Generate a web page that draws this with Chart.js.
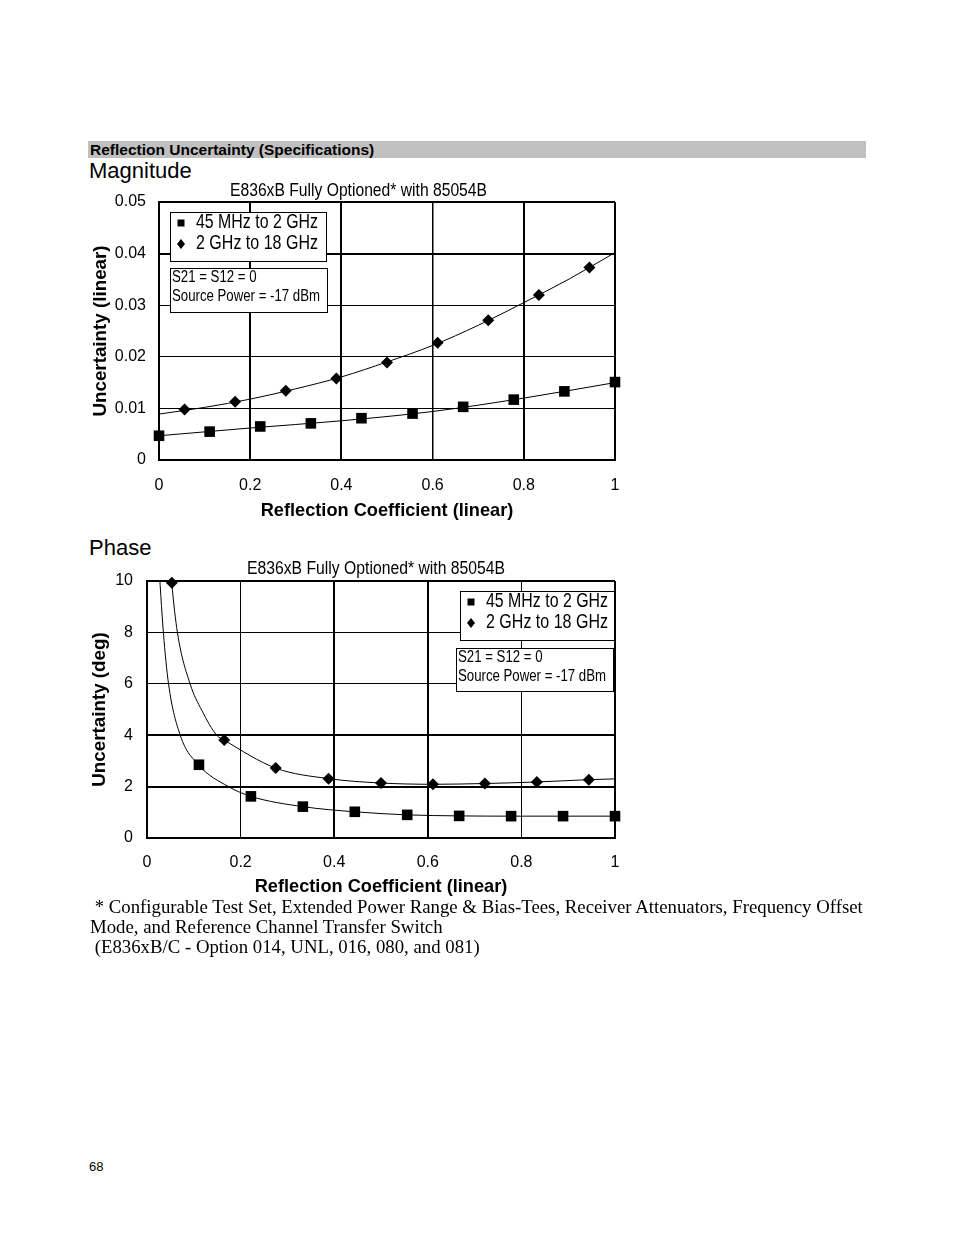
<!DOCTYPE html>
<html lang="en">
<head>
<meta charset="UTF-8">
<title>Reflection Uncertainty (Specifications)</title>
<script src="https://cdn.jsdelivr.net/npm/chart.js"></script>
<style>
  body { margin: 0; background: #fff; }
  #page { position: relative; width: 954px; height: 1235px; overflow: hidden; }
  .bar { position: absolute; left: 88px; top: 141px; width: 778px; height: 17px; background: #c0c0c0;
         font: bold 15.5px "Liberation Sans", Arial, sans-serif; line-height: 17px; padding-left: 2px; box-sizing: border-box; }
  .head { position: absolute; left: 89px; font: 22px "Liberation Sans", Arial, sans-serif; line-height: 22px; }
  .wrap { position: absolute; left: 88px; }
  .foot { position: absolute; left: 90px; top: 897px; font: 18.8px "Liberation Serif", "Times New Roman", serif; line-height: 20px; white-space: pre; }
  .pg { position: absolute; left: 89px; top: 1159px; font: 13px "Liberation Sans", Arial, sans-serif; }
</style>
</head>
<body>
<div id="page">
  <div class="bar">Reflection Uncertainty (Specifications)</div>
  <div class="head" style="top:160px">Magnitude</div>
  <div class="wrap" style="top:181px"><canvas id="magChart" width="540" height="344"></canvas></div>
  <div class="head" style="top:537px">Phase</div>
  <div class="wrap" style="top:560px"><canvas id="phaseChart" width="540" height="343"></canvas></div>
  <div class="foot"> * Configurable Test Set, Extended Power Range &amp; Bias-Tees, Receiver Attenuators, Frequency Offset
Mode, and Reference Channel Transfer Switch
 (E836xB/C - Option 014, UNL, 016, 080, and 081)</div>
  <div class="pg">68</div>
</div>

<script>
// ---- data ----
const xTickLabels = ['0', '0.2', '0.4', '0.6', '0.8', '1'];
const magTickLabels = ['0', '0.01', '0.02', '0.03', '0.04', '0.05'];
const phaseTickLabels = ['0', '2', '4', '6', '8', '10'];
const seriesNames = ['45 MHz to 2 GHz', '2 GHz to 18 GHz'];

// Magnitude: 45 MHz to 2 GHz (squares)
const magLowX = [0, 0.111, 0.222, 0.333, 0.444, 0.556, 0.667, 0.778, 0.889, 1];
const magLowY = [0.0047, 0.0055, 0.0065, 0.0071, 0.0081, 0.0090, 0.0103, 0.0117, 0.0133, 0.0151];
// Magnitude: 2 GHz to 18 GHz (diamonds)
const magHighX = [0.056, 0.167, 0.278, 0.389, 0.5, 0.611, 0.722, 0.833, 0.944];
const magHighY = [0.0098, 0.0113, 0.0134, 0.0158, 0.0189, 0.0227, 0.0271, 0.0320, 0.0373];
// fitted curves
const magLowFitX = [0, 0.2, 0.4, 0.6, 0.8, 1];
const magLowFitY = [0.0047, 0.0062, 0.0076, 0.0094, 0.0120, 0.0150];
const magHighFitX = [0, 0.1, 0.2, 0.3, 0.4, 0.5, 0.6, 0.7, 0.8, 0.9, 1];
const magHighFitY = [0.0089, 0.0102, 0.0118, 0.0138, 0.0161, 0.0190, 0.0222, 0.0261, 0.0305, 0.0351, 0.0402];

// Phase: 45 MHz to 2 GHz (squares)
const phaseLowX = [0.111, 0.222, 0.333, 0.444, 0.556, 0.667, 0.778, 0.889, 1];
const phaseLowY = [2.85, 1.62, 1.22, 1.02, 0.90, 0.86, 0.85, 0.85, 0.85];
// Phase: 2 GHz to 18 GHz (diamonds)
const phaseHighX = [0.053, 0.165, 0.275, 0.388, 0.5, 0.611, 0.722, 0.833, 0.944];
const phaseHighY = [9.93, 3.81, 2.72, 2.31, 2.14, 2.09, 2.12, 2.18, 2.27];
// fitted curves
const phaseLowFitX = [0.024, 0.035, 0.046, 0.071, 0.110, 0.174, 0.222, 0.333, 0.444, 0.556, 0.667, 0.778, 0.889, 1];
const phaseLowFitY = [11.0, 8.0, 6.0, 4.0, 2.85, 2.0, 1.62, 1.22, 1.02, 0.90, 0.86, 0.85, 0.85, 0.85];
const phaseHighFitX = [0.049, 0.053, 0.065, 0.092, 0.117, 0.149, 0.165, 0.275, 0.388, 0.5, 0.611, 0.722, 0.833, 0.944, 1];
const phaseHighFitY = [11.0, 9.93, 8.0, 6.0, 4.97, 4.0, 3.81, 2.72, 2.31, 2.14, 2.09, 2.12, 2.18, 2.27, 2.30];

const pts = (xs, ys) => xs.map((x, i) => ({ x: x, y: ys[i] }));

const sans = "'Liberation Sans', Arial, sans-serif";
Chart.defaults.color = '#000';
Chart.defaults.font.family = sans;

// text squeezed sideways so it fills a given width (the original uses a narrow font)
function squeezeText(ctx, text, x, y, width) {
  const w = ctx.measureText(text).width;
  const k = width / w;
  ctx.save();
  ctx.translate(x, y);
  ctx.scale(k, 1);
  ctx.fillText(text, 0, 0);
  ctx.restore();
}

// legend + note boxes drawn inside the plot, plus the caption above it
const insetPlugin = {
  id: 'insets',
  afterDraw(chart, args, o) {
    const { ctx, chartArea: a } = chart;
    ctx.save();
    ctx.fillStyle = '#000';
    ctx.textBaseline = 'middle';
    ctx.textAlign = 'left';
    ctx.font = '18px ' + sans;
    squeezeText(ctx, o.caption, a.left + o.capX, a.top + o.capY, o.capW);

    [o.legendBox, o.noteBox].forEach(b => {
      ctx.fillStyle = '#fff';
      ctx.fillRect(a.left + b.x, a.top + b.y, b.w, b.h);
      ctx.strokeStyle = '#000';
      ctx.lineWidth = 1;
      ctx.strokeRect(a.left + b.x + 0.5, a.top + b.y + 0.5, b.w, b.h);
    });

    ctx.fillStyle = '#000';
    const L = o.legendBox;
    ctx.font = '19.5px ' + sans;
    seriesNames.forEach((name, i) => {
      const cx = a.left + L.x + 11, cy = a.top + L.y + 11 + i * 21;
      ctx.beginPath();
      if (i === 0) {
        ctx.rect(cx - 3.5, cy - 3.5, 7, 7);
      } else {
        ctx.moveTo(cx, cy - 5); ctx.lineTo(cx + 4, cy); ctx.lineTo(cx, cy + 5); ctx.lineTo(cx - 4, cy);
        ctx.closePath();
      }
      ctx.fill();
      squeezeText(ctx, name, a.left + L.x + 26, cy, L.textW);
    });

    const N = o.noteBox;
    ctx.font = '16px ' + sans;
    const k = N.textW / ctx.measureText(o.note[1]).width;
    o.note.forEach((line, i) => {
      squeezeText(ctx, line, a.left + N.x + 2, a.top + N.y + 10 + i * 19, ctx.measureText(line).width * k);
    });
    ctx.restore();
  }
};

function widthFor(list) {
  return c => list[c.index] !== undefined ? list[c.index] : 1;
}

function buildChart(id, cfg) {
  const tickFont = { family: sans, size: 16 };
  return new Chart(document.getElementById(id), {
    type: 'scatter',
    data: {
      datasets: [
        { data: pts(cfg.lowX, cfg.lowY), pointStyle: 'rect', pointRadius: 7.5, backgroundColor: '#000',
          borderColor: '#000', borderWidth: 0, clip: false },
        { data: pts(cfg.highX, cfg.highY), pointStyle: 'rectRot', pointRadius: 6, backgroundColor: '#000',
          borderColor: '#000', borderWidth: 0, clip: false },
        { data: pts(cfg.lowFitX, cfg.lowFitY), showLine: true, pointRadius: 0, borderColor: '#000',
          borderWidth: 1, cubicInterpolationMode: 'monotone' },
        { data: pts(cfg.highFitX, cfg.highFitY), showLine: true, pointRadius: 0, borderColor: '#000',
          borderWidth: 1, cubicInterpolationMode: 'monotone' }
      ]
    },
    options: {
      responsive: false,
      animation: false,
      events: [],
      layout: { padding: { top: 21, right: 13, left: 0, bottom: 0 } },
      plugins: {
        legend: { display: false },
        tooltip: { enabled: false },
        insets: cfg.insets
      },
      scales: {
        x: {
          type: 'linear', min: 0, max: 1,
          afterFit: s => { s.height = 65; s.paddingLeft = 0; s.paddingRight = 0; },
          afterBuildTicks: s => { s.ticks = xTickLabels.map(v => ({ value: parseFloat(v) })); },
          ticks: { padding: cfg.xTickPad, font: tickFont, maxRotation: 0, callback: (v, i) => xTickLabels[i] },
          grid: { color: '#000', drawTicks: false, lineWidth: widthFor(cfg.xGrid) },
          border: { display: true, color: '#000', width: 2 },
          title: { display: true, text: 'Reflection Coefficient (linear)', padding: { top: 0, bottom: cfg.xTitlePad },
                   font: { family: sans, size: 18.2, weight: 'bold' } }
        },
        y: {
          type: 'linear', min: 0, max: cfg.yMax,
          afterFit: s => { s.width = cfg.yWidth; s.paddingTop = 0; s.paddingBottom = 0; },
          afterBuildTicks: s => { s.ticks = cfg.yTicks.map(v => ({ value: parseFloat(v) })); },
          ticks: { padding: cfg.yTickPad, font: tickFont, callback: (v, i) => cfg.yTicks[i] },
          grid: { color: '#000', drawTicks: false, lineWidth: widthFor(cfg.yGrid) },
          border: { display: true, color: '#000', width: 2 },
          title: { display: true, text: cfg.yTitle, padding: { top: cfg.yTitlePad, bottom: 0 },
                   font: { family: sans, size: 18.8, weight: 'bold' } }
        }
      }
    },
    plugins: [insetPlugin]
  });
}

buildChart('magChart', {
  lowX: magLowX, lowY: magLowY, highX: magHighX, highY: magHighY,
  lowFitX: magLowFitX, lowFitY: magLowFitY, highFitX: magHighFitX, highFitY: magHighFitY,
  yMax: 0.05, yTicks: magTickLabels, yTitle: 'Uncertainty (linear)',
  yWidth: 71, yTickPad: 13, yTitlePad: 2, xTickPad: 16, xTitlePad: 3,
  xGrid: [2, 2, 2, 1.5, 2, 2], yGrid: [2, 1, 1, 1, 2, 2],
  insets: {
    caption: 'E836xB Fully Optioned* with 85054B', capX: 71, capY: -11, capW: 257,
    legendBox: { x: 11, y: 10, w: 156, h: 49, textW: 122 },
    noteBox: { x: 11, y: 66, w: 157, h: 44, textW: 148 },
    note: ['S21 = S12 = 0', 'Source Power = -17 dBm']
  }
});

buildChart('phaseChart', {
  lowX: phaseLowX, lowY: phaseLowY, highX: phaseHighX, highY: phaseHighY,
  lowFitX: phaseLowFitX, lowFitY: phaseLowFitY, highFitX: phaseHighFitX, highFitY: phaseHighFitY,
  yMax: 10, yTicks: phaseTickLabels, yTitle: 'Uncertainty (deg)',
  yWidth: 59, yTickPad: 14, yTitlePad: 1, xTickPad: 15, xTitlePad: 5,
  xGrid: [2, 1, 2, 2, 1, 2], yGrid: [2, 2, 2, 1, 1, 2],
  insets: {
    caption: 'E836xB Fully Optioned* with 85054B', capX: 100, capY: -12, capW: 258,
    legendBox: { x: 313, y: 10, w: 154, h: 49, textW: 122 },
    noteBox: { x: 309, y: 67, w: 157, h: 43, textW: 148 },
    note: ['S21 = S12 = 0', 'Source Power = -17 dBm']
  }
});
</script>
</body>
</html>
